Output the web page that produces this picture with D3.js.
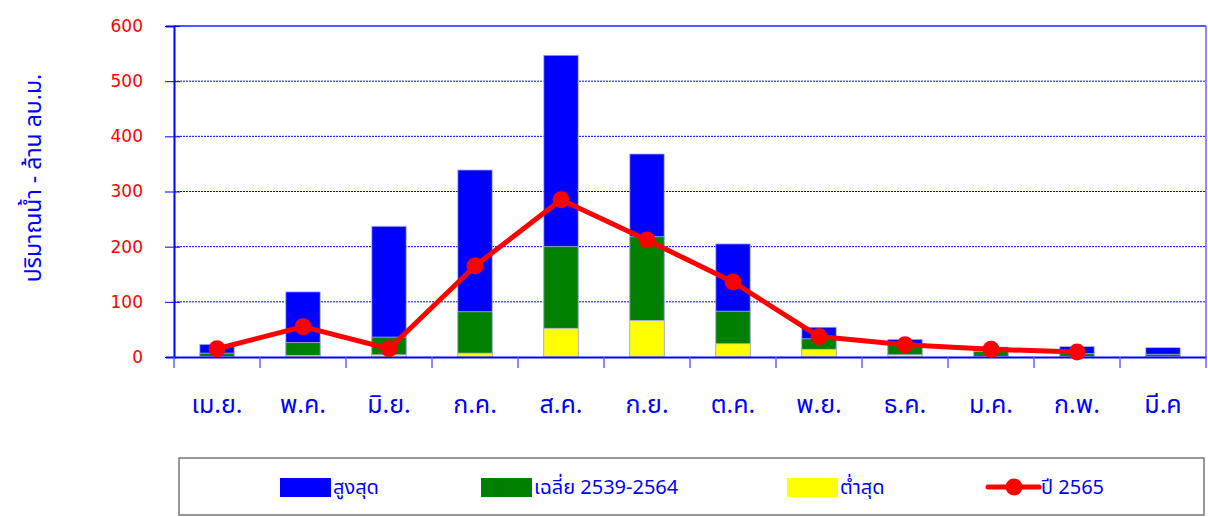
<!DOCTYPE html>
<html><head><meta charset="utf-8">
<script src="https://cdn.jsdelivr.net/npm/d3@7"></script>
<style>body{margin:0;background:#fff}svg{display:block}text{font-family:"Noto Sans Thai","Noto Sans","Tahoma",sans-serif}</style>
</head><body>
<svg id="c" width="1208" height="517"></svg>
<script>
const months = ["เม.ย.","พ.ค.","มิ.ย.","ก.ค.","ส.ค.","ก.ย.","ต.ค.","พ.ย.","ธ.ค.","ม.ค.","ก.พ.","มี.ค"];
const maxVals = [23,118,237,339,547,368,205,54,32,18,19,17];
const avgVals = [7,26,36,82,200,218,83,33,22,10,6,5];
const minVals = [1,3,4,7,52,66,24,14,4,1,1,1];
const y2565 = [15,55,15,165,285,212,136,37,22,14,9,null];
const yTicks = [0,100,200,300,400,500,600];
const legendLabels = ["สูงสุด","เฉลี่ย 2539-2564","ต่ำสุด","ปี 2565"];

const svg = d3.select("#c");
const L=174, R=1206, T=26, B=357;
const x = d3.scaleBand().domain(months).range([L,R]).paddingInner(0.6).paddingOuter(0.3);
const xb = d3.scaleBand().domain(months).range([L,R]);
const y = d3.scaleLinear().domain([0,600]).range([B,T]);
const blue="#0000ff";

// grid
svg.append("g").selectAll("line").data(yTicks.filter(d=>d>0&&d<600)).join("line")
  .attr("x1",L).attr("x2",R).attr("y1",d=>y(d)).attr("y2",d=>y(d))
  .attr("stroke",blue).attr("stroke-width",1).attr("stroke-dasharray","2,1");
svg.append("line").attr("x1",L).attr("x2",R).attr("y1",T).attr("y2",T).attr("stroke","#2020ff").attr("stroke-width",1.5);
svg.append("line").attr("x1",R).attr("x2",R).attr("y1",T).attr("y2",B).attr("stroke","#6060ff").attr("stroke-width",1.5);

// bars
const series=[[maxVals,blue],[avgVals,"#008000"],[minVals,"#ffff00"]];
series.forEach(([vals,col])=>{
  svg.append("g").selectAll("rect").data(vals).join("rect")
    .attr("x",(d,i)=>x(months[i])).attr("width",x.bandwidth())
    .attr("y",d=>y(d)).attr("height",d=>B-y(d))
    .attr("fill",col).attr("stroke","#b0b8e0").attr("stroke-width",0.8);
});

// y axis
const ya = svg.append("g").attr("transform",`translate(${L},0)`)
  .call(d3.axisLeft(y).tickValues(yTicks).tickSize(8).tickPadding(6));
ya.select(".domain").attr("stroke",blue).attr("stroke-width",2);
ya.selectAll(".tick line").attr("stroke",blue).attr("x2",-9).attr("x1",6);
ya.selectAll(".tick text").attr("fill","#ff0000").attr("font-size",17).attr("x",-31)
  .style("font-family","'DejaVu Sans',Verdana,sans-serif");

// x axis
const xa = svg.append("g").attr("transform",`translate(0,${B})`)
  .call(d3.axisBottom(xb).tickSize(0).tickPadding(38));
xa.select(".domain").attr("stroke",blue).attr("stroke-width",2);
xa.selectAll(".tick text").attr("fill",blue).attr("font-size",25);
svg.append("g").selectAll("line").data(d3.range(13)).join("line")
  .attr("x1",i=>L+i*xb.step()).attr("x2",i=>L+i*xb.step())
  .attr("y1",B).attr("y2",B+11).attr("stroke","#6060ff").attr("stroke-width",1.5);

// line
const pts = y2565.map((v,i)=>({v,i})).filter(d=>d.v!=null);
const line = d3.line().x(d=>xb(months[d.i])+xb.bandwidth()/2).y(d=>y(d.v));
svg.append("path").datum(pts).attr("d",line).attr("fill","none").attr("stroke","#ff0000").attr("stroke-width",5).attr("stroke-linejoin","round");
svg.append("g").selectAll("circle").data(pts).join("circle")
  .attr("cx",d=>xb(months[d.i])+xb.bandwidth()/2).attr("cy",d=>y(d.v)).attr("r",8.5).attr("fill","#ff0000");

// y title
svg.append("text").attr("transform","translate(41,178) rotate(-90)").attr("text-anchor","middle")
  .attr("fill",blue).attr("font-size",23).text("ปริมาณน้ำ - ล้าน ลบ.ม.");

// legend
svg.append("rect").attr("x",179).attr("y",458).attr("width",1025).attr("height",57).attr("fill","#fff").attr("stroke","#777").attr("stroke-width",1.5);
const lx=[280,481,787,988];
const lcol=[blue,"#008000","#ffff00"];
const lg = svg.append("g");
legendLabels.forEach((t,i)=>{
  if(i<3){ lg.append("rect").attr("x",lx[i]).attr("y",478).attr("width",51).attr("height",19).attr("fill",lcol[i]); }
  else {
    lg.append("line").attr("x1",lx[i]).attr("x2",lx[i]+51).attr("y1",487).attr("y2",487).attr("stroke","#ff0000").attr("stroke-width",5).attr("stroke-linecap","round");
    lg.append("circle").attr("cx",lx[i]+26).attr("cy",487).attr("r",8.5).attr("fill","#ff0000");
  }
  lg.append("text").attr("x",lx[i]+53).attr("y",494).attr("fill",blue).attr("font-size",20).text(t);
});
</script>
</body></html>
